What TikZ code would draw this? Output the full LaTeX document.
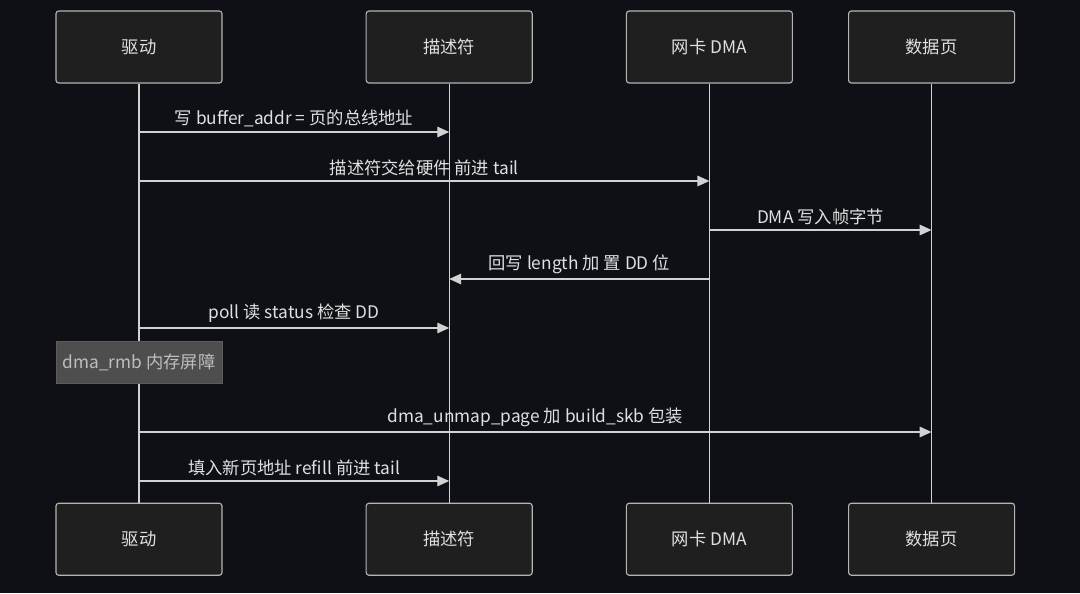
\documentclass[tikz,border=0pt]{standalone}
\usepackage{fontspec}
\setmainfont{Noto Sans CJK SC}
\usetikzlibrary{arrows.meta,positioning}
\definecolor{bgc}{HTML}{0E1015}
\definecolor{boxfill}{HTML}{1F1F1F}
\definecolor{boxline}{HTML}{B4B4B4}
\definecolor{lineclr}{HTML}{D2D2D2}
\definecolor{notefill}{HTML}{4E4E4E}
\definecolor{noteline}{HTML}{5C5C5C}
\definecolor{txt}{HTML}{E0E0E0}

\begin{document}
\begin{tikzpicture}[x=0.025cm, y=-0.025cm, font=\fontsize{12.3}{14}\selectfont,
  actor/.style={draw=boxline, fill=boxfill, rounded corners=2pt, line width=0.8pt,
                minimum width=4.15cm, minimum height=1.8cm, text=txt},
  life/.style={draw=lineclr, line width=0.9pt},
  msg/.style={color=lineclr, line width=0.9pt, -{Triangle[length=8.5pt,width=7.5pt]}},
  lbl/.style={above, text=txt, yshift=0pt},
  note/.style={draw=noteline, fill=notefill, line width=0.6pt, text=txt!85!black,
               minimum width=4.15cm, minimum height=1.05cm}]

\fill[bgc] (0,0) rectangle (1080,593);

\node[actor]                          (drvT)  at (139,47) {驱动};
\node[actor, right=3.575cm of drvT]   (descT) {描述符};
\node[actor, right=2.325cm of descT]  (nicT)  {网卡 DMA};
\node[actor, right=1.375cm of nicT]   (pageT) {数据页};

\node[actor, below=10.475cm of drvT]  (drvB)  {驱动};
\node[actor, below=10.475cm of descT] (descB) {描述符};
\node[actor, below=10.475cm of nicT]  (nicB)  {网卡 DMA};
\node[actor, below=10.475cm of pageT] (pageB) {数据页};

% lifelines
\draw[life] (drvT.south)  -- (drvB.north);
\draw[life] (descT.south) -- (descB.north);
\draw[life] (nicT.south)  -- (nicB.north);
\draw[life] (pageT.south) -- (pageB.north);

\path
  (drvT |- 0,132) edge[msg] node[lbl] {写 buffer\_addr = 页的总线地址} (descT |- 0,132)
  (drvT |- 0,181) edge[msg] node[lbl] {描述符交给硬件 前进 tail} (nicT |- 0,181)
  (nicT |- 0,230) edge[msg] node[lbl] {DMA 写入帧字节} (pageT |- 0,230)
  (nicT |- 0,279) edge[msg] node[lbl] {回写 length 加 置 DD 位} (descT |- 0,279)
  (drvT |- 0,328) edge[msg] node[lbl] {poll 读 status 检查 DD} (descT |- 0,328);

\node[note] (barrier) at (139,362) {dma\_rmb 内存屏障};

\path
  (drvT |- 0,432) edge[msg] node[lbl] {dma\_unmap\_page 加 build\_skb 包装} (pageT |- 0,432)
  (drvT |- 0,481) edge[msg] node[lbl] {填入新页地址 refill 前进 tail} (descT |- 0,481);
\end{tikzpicture}
\end{document}
